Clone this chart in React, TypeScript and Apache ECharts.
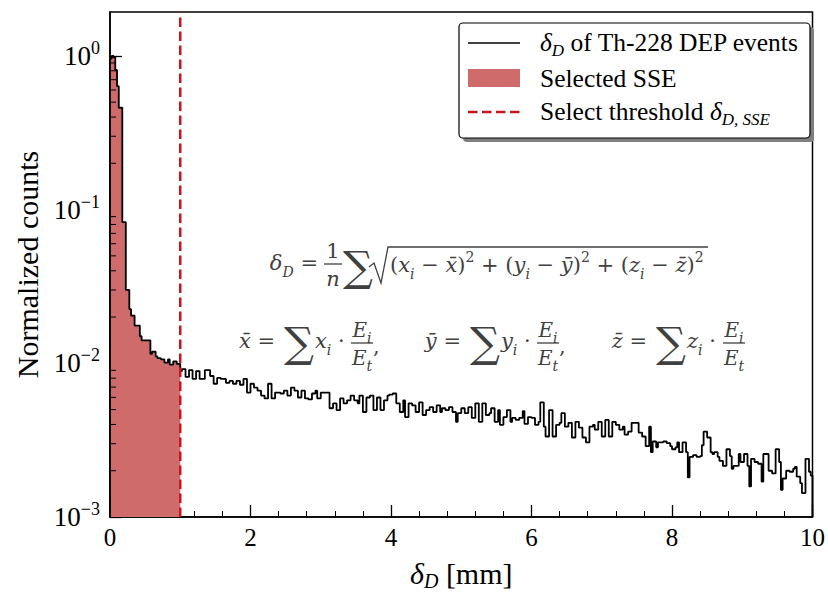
import React, { useEffect, useRef } from "react";
import * as echarts from "echarts";

// ---------------- data ----------------
const BIN_WIDTH = 0.025; // mm
const THRESHOLD = 1.0; // delta_D,SSE in mm
const X_MIN = 0;
const X_MAX = 10;
const Y_MIN = 0.001;
const Y_MAX = 1.93;
const xTickValues = [0, 2, 4, 6, 8, 10];
const yDecadeExponents = [-3, -2, -1, 0];
const minorMultipliers = [2, 3, 4, 5, 6, 7, 8, 9];
const legendLabels = ["of Th-228 DEP events", "Selected SSE", "Select threshold "];

// normalized counts per 0.025 mm bin (0 .. 10 mm)
const sseCounts = [
  0.96, 1.0, 0.98, 0.81, 0.635, 0.46, 0.46, 0.083, 0.083, 0.03, 0.03, 0.0225, 0.0204, 0.0204, 0.0176, 0.0176, 0.0176, 0.015, 0.0141, 0.0141,
  0.0141, 0.0141, 0.0141, 0.0115, 0.0119, 0.0119, 0.0111, 0.0108, 0.0108, 0.0106, 0.0106, 0.0101, 0.0101, 0.0106, 0.0098, 0.0098, 0.0103, 0.0103, 0.0099, 0.0099,
];
const tailCounts = [
  0.0089, 0.00916, 0.00916, 0.00815, 0.00815, 0.00903, 0.00903, 0.00791, 0.00791, 0.0089, 0.0089, 0.00791, 0.00791, 0.00791, 0.00903, 0.00903, 0.00903, 0.00827, 0.00827, 0.00736,
  0.00736, 0.00803, 0.00803, 0.00791, 0.00791, 0.00791, 0.00746, 0.00746, 0.00768, 0.00768, 0.00736, 0.00736, 0.00768, 0.00768, 0.00725, 0.00725, 0.00791, 0.00791, 0.00645, 0.00645,
  0.00736, 0.00736, 0.00694, 0.00694, 0.00664, 0.00664, 0.00617, 0.00617, 0.00591, 0.00591, 0.00736, 0.00736, 0.00591, 0.00591, 0.00645, 0.00645, 0.00645, 0.00636, 0.00636, 0.00664,
  0.00664, 0.00617, 0.00617, 0.00694, 0.00694, 0.00664, 0.00664, 0.00599, 0.00599, 0.00664, 0.00664, 0.00591, 0.00591, 0.00582, 0.00582, 0.00636, 0.00636, 0.00664, 0.00591, 0.00591,
  0.00645, 0.00645, 0.00645, 0.00645, 0.00645, 0.0051, 0.0051, 0.00549, 0.00549, 0.00496, 0.00496, 0.00591, 0.00591, 0.00549, 0.00549, 0.00574, 0.00574, 0.00617, 0.00617, 0.00574,
  0.00574, 0.00549, 0.00617, 0.00617, 0.00482, 0.00482, 0.00599, 0.00599, 0.00617, 0.00617, 0.00496, 0.00496, 0.00599, 0.00599, 0.00496, 0.00496, 0.00574, 0.00574, 0.00617, 0.00626,
  0.00626, 0.00636, 0.00636, 0.00549, 0.00549, 0.00482, 0.00482, 0.00574, 0.00447, 0.00447, 0.00549, 0.00549, 0.00533, 0.00533, 0.00482, 0.00482, 0.00557, 0.00557, 0.00461, 0.00461,
  0.00496, 0.00496, 0.00518, 0.00518, 0.00482, 0.00482, 0.00533, 0.00533, 0.00482, 0.0051, 0.0051, 0.00496, 0.00496, 0.00518, 0.00518, 0.00482, 0.00482, 0.00416, 0.00474, 0.00474,
  0.0051, 0.0051, 0.00474, 0.00474, 0.00518, 0.00518, 0.00441, 0.00441, 0.00549, 0.00549, 0.00416, 0.00416, 0.00549, 0.00549, 0.00461, 0.00461, 0.00474, 0.0051, 0.0051, 0.00416,
  0.00416, 0.00496, 0.00398, 0.00398, 0.00447, 0.00447, 0.00496, 0.00496, 0.00416, 0.00441, 0.00441, 0.00428, 0.00428, 0.00441, 0.00441, 0.00489, 0.00404, 0.00404, 0.00447, 0.00447,
  0.00441, 0.00441, 0.00398, 0.00398, 0.00416, 0.00557, 0.00557, 0.00387, 0.00334, 0.00334, 0.00496, 0.00496, 0.00334, 0.00334, 0.00398, 0.00398, 0.0041, 0.00474, 0.00474, 0.00387,
  0.00387, 0.0041, 0.0041, 0.00329, 0.00329, 0.00416, 0.00416, 0.00381, 0.00381, 0.00329, 0.00329, 0.00306, 0.00306, 0.00387, 0.00387, 0.00398, 0.0037, 0.0037, 0.00416, 0.00416,
  0.00334, 0.00334, 0.00428, 0.00428, 0.00334, 0.00334, 0.00416, 0.00416, 0.00398, 0.00398, 0.0037, 0.0037, 0.00387, 0.00344, 0.00344, 0.00359, 0.00359, 0.0041, 0.0041, 0.0041,
  0.0041, 0.00354, 0.00354, 0.00334, 0.00334, 0.00289, 0.00289, 0.00387, 0.00264, 0.0031, 0.0031, 0.00284, 0.00306, 0.00306, 0.00306, 0.0031, 0.0031, 0.00302, 0.00302, 0.00289,
  0.00276, 0.00276, 0.00284, 0.00306, 0.00264, 0.00264, 0.00306, 0.00306, 0.00264, 0.00181, 0.00246, 0.00246, 0.00253, 0.00253, 0.00246, 0.00246, 0.00249, 0.00293, 0.00359, 0.00359,
  0.00329, 0.00329, 0.00264, 0.00257, 0.00264, 0.00264, 0.00246, 0.00232, 0.00232, 0.00215, 0.00215, 0.00276, 0.00276, 0.00249, 0.00206, 0.00215, 0.00215, 0.00215, 0.00257, 0.00228,
  0.00228, 0.00257, 0.00257, 0.00215, 0.00158, 0.00239, 0.00239, 0.00228, 0.00228, 0.00222, 0.00222, 0.0017, 0.00257, 0.00257, 0.00257, 0.002, 0.002, 0.00192, 0.00192, 0.00276,
  0.00276, 0.00228, 0.0015, 0.00178, 0.00178, 0.002, 0.002, 0.00197, 0.00197, 0.00206, 0.00212, 0.00183, 0.00183, 0.00166, 0.00143, 0.00143, 0.00239, 0.00239, 0.00197, 0.00186,
];

// ---------------- styles ----------------
const SERIF = "'Liberation Serif', 'Times New Roman', Times, serif";
const MATH = "'DejaVu Serif', 'Liberation Serif', serif";
const FILL_COLOR = "#CF6B6B";
const DASH_COLOR = "#C8161E";
const FORMULA_COLOR = "#404040";
const FS = 21; // formula font size

const allCounts = [...sseCounts, ...tailCounts];

function stepData(counts: number[], startIndex: number, endX: number) {
  const pts: [number, number][] = [[startIndex * BIN_WIDTH, Y_MIN]];
  counts.forEach((v, i) => {
    const lo = (startIndex + i) * BIN_WIDTH;
    pts.push([lo, v], [lo + BIN_WIDTH, v]);
  });
  pts.push([endX, Y_MIN]);
  return pts;
}

const fRich = (size: number) => ({
  i: { fontFamily: MATH, fontStyle: "italic", fontSize: size, fill: FORMULA_COLOR, lineHeight: size + 10 },
  r: { fontFamily: MATH, fontSize: size, fill: FORMULA_COLOR, lineHeight: size + 10 },
  s: { fontFamily: MATH, fontStyle: "italic", fontSize: Math.round(size * 0.68), fill: FORMULA_COLOR, verticalAlign: "bottom", lineHeight: Math.round(size * 0.8) },
  p: { fontFamily: MATH, fontSize: Math.round(size * 0.68), fill: FORMULA_COLOR, verticalAlign: "top", lineHeight: Math.round(size * 0.8) },
});

function txt(x: number, y: number, text: string, size: number, align = "left", z = 50) {
  return {
    type: "text",
    x,
    y,
    z,
    silent: true,
    style: { text, rich: fRich(size), align, verticalAlign: "middle", fill: FORMULA_COLOR, fontFamily: MATH, fontSize: size },
  };
}

function sigma(cx: number, cy: number) {
  return {
    type: "text",
    x: cx,
    y: cy,
    z: 50,
    silent: true,
    style: { text: "\u2211", fontFamily: "'DejaVu Serif', serif", fontSize: 42, fill: FORMULA_COLOR, align: "center", verticalAlign: "middle" },
  };
}

function fraction(cx: number, barY: number, num: string, den: string, halfW: number, size: number) {
  return [
    txt(cx, barY - 13, num, size, "center"),
    { type: "line", z: 50, silent: true, shape: { x1: cx - halfW, y1: barY, x2: cx + halfW, y2: barY }, style: { stroke: FORMULA_COLOR, lineWidth: 1.3 } },
    txt(cx, barY + 15, den, size, "center"),
  ];
}

function weightedMean(left: number, v: string) {
  return [
    txt(left + 35, 341, `{i|${v}\u0304}{r| =}`, FS, "right"),
    sigma(left + 59, 342),
    txt(left + 75, 341, `{i|${v}}{s|i}{r| \u00B7}`, FS),
    ...fraction(left + 122, 343, "{i|E}{s|i}", "{i|E}{s|t}", 11, 20),
  ];
}

const LFS = 25.5;
const legendRich = {
  i: { fontFamily: SERIF, fontStyle: "italic", fontSize: LFS, fill: "#000", lineHeight: 34 },
  r: { fontFamily: SERIF, fontSize: LFS, fill: "#000", lineHeight: 34 },
  s: { fontFamily: SERIF, fontStyle: "italic", fontSize: 17, fill: "#000", verticalAlign: "bottom", lineHeight: 21 },
};

function legendText(y: number, text: string) {
  return { type: "text", x: 540, y, z: 102, silent: true, style: { text, rich: legendRich, verticalAlign: "middle", fill: "#000" } };
}

const minorYTicks: [number, number][] = [];
yDecadeExponents.forEach((e) => {
  minorMultipliers.forEach((m) => {
    const v = m * Math.pow(10, e);
    if (v > Y_MIN && v < Y_MAX) minorYTicks.push([X_MIN, v]);
  });
});

function buildOption() {
  return {
    animation: false,
    grid: { left: 110, right: 6, top: 12, bottom: 66, show: true, borderColor: "#000", borderWidth: 1.5, backgroundColor: "transparent" },
    xAxis: {
      type: "value",
      min: X_MIN,
      max: X_MAX,
      interval: xTickValues[1] - xTickValues[0],
      name: "{i|\u03B4}{s|D}{r| [mm]}",
      nameLocation: "middle",
      nameGap: 38,
      nameTextStyle: {
        rich: {
          i: { fontFamily: SERIF, fontStyle: "italic", fontSize: 30, color: "#000", lineHeight: 36 },
          r: { fontFamily: SERIF, fontSize: 30, color: "#000", lineHeight: 36 },
          s: { fontFamily: SERIF, fontStyle: "italic", fontSize: 20, color: "#000", verticalAlign: "bottom", lineHeight: 24 },
        },
      },
      axisLine: { lineStyle: { color: "#000", width: 1.5 } },
      axisTick: { inside: true, length: 12, lineStyle: { color: "#000", width: 1.3 } },
      minorTick: { show: true, splitNumber: 5, length: 6, lineStyle: { color: "#000", width: 1 } },
      axisLabel: { color: "#000", fontSize: 25, fontFamily: SERIF, margin: 8 },
      splitLine: { show: false },
    },
    yAxis: {
      type: "log",
      logBase: 10,
      min: Y_MIN,
      max: Y_MAX,
      name: "Normalized counts",
      nameLocation: "middle",
      nameGap: 60,
      nameRotate: 90,
      nameTextStyle: { fontFamily: SERIF, fontSize: 30, color: "#000" },
      axisLine: { lineStyle: { color: "#000", width: 1.5 } },
      axisTick: { inside: true, length: 12, lineStyle: { color: "#000", width: 1.3 } },
      minorTick: { show: false },
      splitLine: { show: false },
      axisLabel: {
        showMaxLabel: false,
        margin: 10,
        formatter: (v: number) => {
          const e = Math.round(Math.log10(v));
          return `{b|10}{s|${e < 0 ? "\u2212" + -e : e}}`;
        },
        rich: {
          b: { fontFamily: SERIF, fontSize: 27, color: "#000", lineHeight: 34 },
          s: { fontFamily: SERIF, fontSize: 18, color: "#000", verticalAlign: "top", lineHeight: 18 },
        },
      },
    },
    series: [
      {
        type: "line",
        name: "Selected SSE",
        data: stepData(sseCounts, 0, THRESHOLD),
        symbol: "none",
        silent: true,
        lineStyle: { width: 0 },
        areaStyle: { color: FILL_COLOR, opacity: 1, origin: "start" },
        z: 1,
      },
      {
        type: "line",
        name: "\u03B4D of Th-228 DEP events",
        data: stepData(allCounts, 0, X_MAX),
        symbol: "none",
        silent: true,
        lineStyle: { color: "#000", width: 1.8 },
        z: 3,
      },
      {
        type: "line",
        name: "Select threshold",
        data: [
          [THRESHOLD, Y_MIN],
          [THRESHOLD, Y_MAX],
        ],
        symbol: "none",
        silent: true,
        lineStyle: { color: DASH_COLOR, width: 2.5, type: [9.5, 4.5] },
        z: 4,
      },
      {
        type: "custom",
        name: "minor ticks",
        data: minorYTicks,
        silent: true,
        z: 5,
        renderItem: (_p: any, api: any) => {
          const pt = api.coord([api.value(0), api.value(1)]);
          return {
            type: "line",
            shape: { x1: pt[0], y1: pt[1], x2: pt[0] + 6, y2: pt[1] },
            style: { stroke: "#000", lineWidth: 1 },
          };
        },
      },
    ],
    graphic: [
      // legend
      { type: "rect", z: 100, silent: true, shape: { x: 463, y: 27, width: 351, height: 115, r: 4 }, style: { fill: "#808080" } },
      { type: "rect", z: 101, silent: true, shape: { x: 459, y: 23, width: 351, height: 115, r: 4 }, style: { fill: "#fff", stroke: "#000", lineWidth: 1.2 } },
      { type: "line", z: 102, silent: true, shape: { x1: 468, y1: 43, x2: 520, y2: 43 }, style: { stroke: "#000", lineWidth: 1.7 } },
      legendText(42, `{i|\u03B4}{s|D}{r| ${legendLabels[0]}}`),
      { type: "rect", z: 102, silent: true, shape: { x: 468, y: 69, width: 52, height: 18 }, style: { fill: FILL_COLOR } },
      legendText(78, `{r|${legendLabels[1]}}`),
      { type: "line", z: 102, silent: true, shape: { x1: 468, y1: 112, x2: 520, y2: 112 }, style: { stroke: DASH_COLOR, lineWidth: 2.5, lineDash: [9.5, 4.5] } },
      legendText(111, `{r|${legendLabels[2]}}{i|\u03B4}{s|D, SSE}`),
      // formula line 1
      txt(318, 263, "{i|\u03B4}{s|D}{r| =}", FS, "right"),
      ...fraction(333, 264, "{r|1}", "{i|n}", 9, 21),
      sigma(358, 266),
      {
        type: "polyline",
        z: 50,
        silent: true,
        shape: { points: [[369, 267], [374, 263], [381, 283], [388, 247], [708, 247]] },
        style: { stroke: FORMULA_COLOR, lineWidth: 1.3, fill: null },
      },
      txt(
        390,
        265,
        "{r|(}{i|x}{s|i}{r| \u2212 }{i|x\u0304}{r|)}{p|2}{r| + (}{i|y}{s|i}{r| \u2212 }{i|y\u0304}{r|)}{p|2}{r| + (}{i|z}{s|i}{r| \u2212 }{i|z\u0304}{r|)}{p|2}",
        FS
      ),
      // formula line 2
      ...weightedMean(240, "x"),
      txt(373, 346, "{r|,}", FS),
      ...weightedMean(426, "y"),
      txt(559, 346, "{r|,}", FS),
      ...weightedMean(612, "z"),
    ],
  };
}

export default function App() {
  const ref = useRef<HTMLDivElement>(null);
  useEffect(() => {
    if (!ref.current) return;
    const chart = echarts.init(ref.current, null, { renderer: "svg" });
    chart.setOption(buildOption() as any);
    return () => chart.dispose();
  }, []);
  return <div ref={ref} style={{ position: "absolute", left: 0, top: 0, width: 828, height: 596, background: "#fff" }} />;
}
